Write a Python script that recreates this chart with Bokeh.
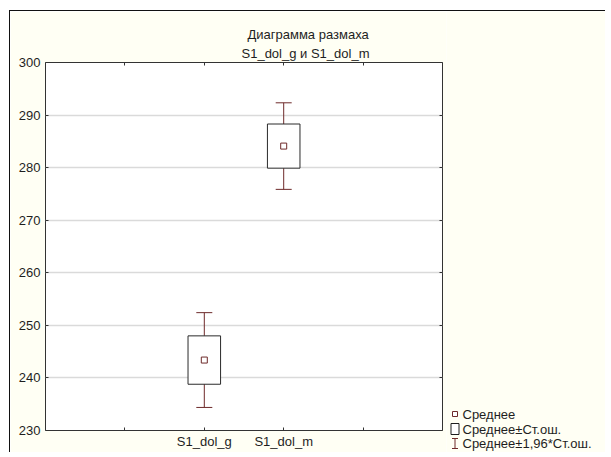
from bokeh.plotting import figure
from bokeh.layouts import column, row
from bokeh.models import (ColumnDataSource, FixedTicker, LinearAxis, Range1d,
                          Whisker, TeeHead, Title)
from bokeh.core.properties import value
from bokeh.embed import file_html
from bokeh.resources import INLINE

# ---- data -------------------------------------------------------------
categories = ["S1_dol_g", "S1_dol_m"]
means = [243.4, 284.1]
std_errors = [4.6, 4.2]
y_ticks = [230, 240, 250, 260, 270, 280, 290, 300]
x_ticks = [1, 2, 3, 4]
title_lines = ["Диаграмма размаха", "S1_dol_g  и  S1_dol_m"]
legend_labels = ["Среднее", "Среднее±Ст.ош.", "Среднее±1,96*Ст.ош."]

# ---- styling ----------------------------------------------------------
FONT = "Liberation Sans"
FS = "13px"
TEXT = "#1e1e1e"
MAROON = "#6e2a2a"
CREAM = "#FFFFF4"

X0, X1 = 0, 5
Y0, Y1 = 230, 300

# panel sizes (pixels)
TOTAL_W, TOTAL_H = 595, 441
MAIN_W = 436
LEG_W = TOTAL_W - MAIN_W


# ---- main chart -------------------------------------------------------
half = 0.205
xs = [i + 2 for i in range(len(categories))]
src = ColumnDataSource(dict(
    x=xs,
    left=[x - half for x in xs],
    right=[x + half for x in xs],
    mean=means,
    box_lo=[m - s for m, s in zip(means, std_errors)],
    box_hi=[m + s for m, s in zip(means, std_errors)],
    ci_lo=[m - 1.96 * s for m, s in zip(means, std_errors)],
    ci_hi=[m + 1.96 * s for m, s in zip(means, std_errors)],
))


def make_title(text, offset, standoff):
    return Title(text=text, align="left", offset=offset, standoff=standoff,
                 vertical_align="bottom", text_font=FONT, text_font_size=FS,
                 text_font_style="normal", text_color=TEXT)


p = figure(width=MAIN_W, height=TOTAL_H, output_backend="svg",
           toolbar_location=None,
           title=make_title(title_lines[0], 202, 1),
           x_range=Range1d(X0, X1), y_range=Range1d(Y0, Y1),
           min_border_left=35, min_border_top=51,
           min_border_right=4, min_border_bottom=22,
           background_fill_color="white", border_fill_color=CREAM)
p.outline_line_color = "#333333"
p.outline_line_width = 1

p.xgrid.visible = False
p.ygrid.ticker = FixedTicker(ticks=y_ticks)
p.ygrid.grid_line_color = "#dadada"
p.ygrid.grid_line_width = 1.5


def style_axis(ax, show_labels):
    ax.axis_line_color = None
    ax.major_tick_in = 3
    ax.major_tick_out = 0
    ax.major_tick_line_color = "#333333"
    ax.minor_tick_line_color = None
    ax.major_label_text_font = FONT
    ax.major_label_text_font_size = FS
    ax.major_label_text_color = TEXT
    if not show_labels:
        ax.major_label_text_alpha = 0
        ax.major_label_text_font_size = "1px"
        ax.major_label_standoff = 0


yax = p.yaxis[0]
yax.ticker = FixedTicker(ticks=y_ticks)
style_axis(yax, True)
yax.major_label_standoff = 5

xax = p.xaxis[0]
xax.ticker = FixedTicker(ticks=x_ticks)
overrides = {t: "" for t in x_ticks}
for xi, name in zip(xs, categories):
    overrides[xi] = name
xax.major_label_overrides = overrides
style_axis(xax, True)
xax.major_label_standoff = 3

top_ax = LinearAxis(ticker=FixedTicker(ticks=x_ticks))
style_axis(top_ax, False)
p.add_layout(top_ax, "above")
p.add_layout(make_title(title_lines[1], 196, 3), "above")
right_ax = LinearAxis(ticker=FixedTicker(ticks=y_ticks))
style_axis(right_ax, False)
p.add_layout(right_ax, "right")

# error bars (mean ± 1.96*SE), drawn beneath the boxes
whisk = Whisker(base="x", lower="ci_lo", upper="ci_hi", source=src,
                dimension="height", line_color=MAROON, line_width=1,
                lower_head=TeeHead(size=16, line_color=MAROON, line_width=1),
                upper_head=TeeHead(size=16, line_color=MAROON, line_width=1),
                level="underlay")
p.add_layout(whisk)

# boxes (mean ± SE)
p.quad(left="left", right="right", bottom="box_lo", top="box_hi", source=src,
       fill_color="white", line_color="#2a2a2a", line_width=1)

# mean markers
p.scatter(x="x", y="mean", source=src, marker="square", size=6,
          fill_color="white", line_color=MAROON, line_width=1)

# ---- legend panel (y measured downwards in pixels) --------------------
leg = figure(width=LEG_W, height=TOTAL_H, output_backend="svg",
             toolbar_location=None,
             x_range=Range1d(0, LEG_W), y_range=Range1d(TOTAL_H, 0),
             x_axis_type=None, y_axis_type=None, min_border=0,
             background_fill_color=CREAM, border_fill_color=CREAM,
             outline_line_color=None)
leg.grid.visible = False
# mean marker key
leg.scatter(x=[8.5], y=[402.5], marker="square", size=5,
            fill_color="white", line_color=MAROON, line_width=1)
# box key
leg.quad(left=[4.5], right=[12.5], top=[412], bottom=[423],
         fill_color="white", line_color="#1e1e1e", line_width=1)
# error-bar key
leg.segment(x0=[8.5, 5.5, 5.5], y0=[427, 427, 437],
            x1=[8.5, 11.5, 11.5], y1=[437, 427, 437],
            line_color=MAROON, line_width=1)
leg.text(x=[16, 16, 16], y=[403, 418, 432], text=legend_labels,
         text_align="left", text_baseline="middle",
         text_font=value(FONT), text_font_size=value(FS),
         text_color=TEXT)

# the legend sits in its own column so that its canvas keeps its own borders
layout = row(p, column(leg, spacing=0), spacing=0)
layout.margin = (10, 0, 0, 9)
layout.styles = {"border-left": "1px solid #111", "border-top": "1px solid #111"}

open("out.html", "w").write(file_html(layout, INLINE))
